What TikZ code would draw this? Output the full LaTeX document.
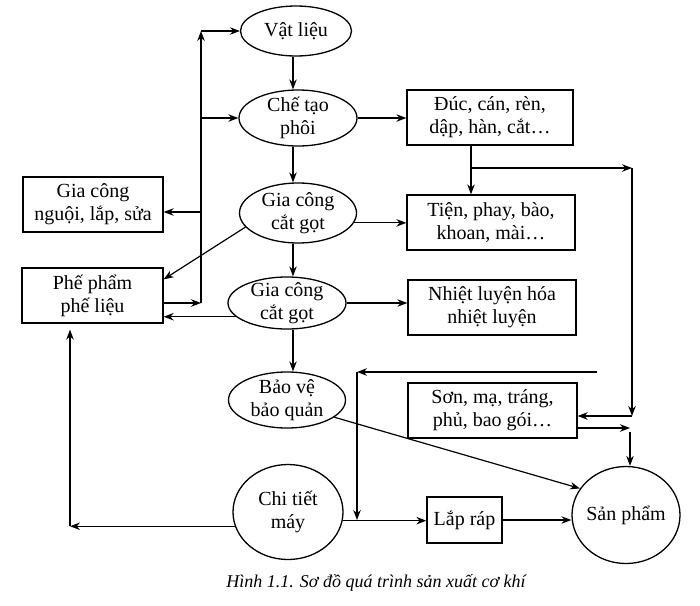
\documentclass[tikz,border=0pt]{standalone}
\usepackage{fontspec}
\setmainfont{Liberation Serif}
\usetikzlibrary{shapes.geometric,arrows.meta,calc}
\begin{document}
\begin{tikzpicture}[x=1pt,y=-1pt,
  every node/.style={font=\fontsize{20}{23}\selectfont},
  ell/.style={draw, ellipse, line width=1.3pt, inner sep=0pt},
  box/.style={draw, rectangle, line width=1.3pt, align=center, inner sep=2pt},
  lbl/.style={align=center, font=\fontsize{20}{23}\selectfont},
  arr/.style={line width=1.2pt, -{Stealth[length=10pt,width=7.5pt]}},
  ln/.style={line width=1.2pt}]
\useasboundingbox (0,0) rectangle (700,605);

% ellipses
\node[ell, minimum width=111pt, minimum height=50pt, label={[lbl]center:Vật liệu}] (vat) at (296,31) {};
\node[ell, minimum width=118pt, minimum height=56pt, label={[lbl]center:{Chế tạo\\phôi}}] (che) at (298,118) {};
\node[ell, minimum width=117pt, minimum height=60pt, label={[lbl]center:{Gia công\\cắt gọt}}] (gc1) at (298,213) {};
\node[ell, minimum width=118pt, minimum height=52pt, label={[lbl]center:{Gia công\\cắt gọt}}] (gc2) at (287,303) {};
\node[ell, minimum width=117pt, minimum height=56pt, label={[lbl]center:{Bảo vệ\\bảo quản}}] (bao) at (287,400) {};
\node[ell, minimum width=110pt, minimum height=95pt, label={[lbl]center:{Chi tiết\\máy}}] (chi) at (288,512) {};
\node[ell, minimum width=108pt, minimum height=97pt, label={[lbl]center:Sản phẩm}] (san) at (626,515) {};

% boxes
\node[box, minimum width=166pt, minimum height=55pt] (duc) at (490,117.5) {Đúc, cán, rèn,\\dập, hàn, cắt…};
\node[box, minimum width=168pt, minimum height=55pt] (tien) at (491,222.5) {Tiện, phay, bào,\\khoan, mài…};
\node[box, minimum width=168pt, minimum height=55pt] (nhiet) at (492,307.5) {Nhiệt luyện hóa\\nhiệt luyện};
\node[box, minimum width=169pt, minimum height=55pt] (son) at (492.5,410.5) {Sơn, mạ, tráng,\\phủ, bao gói…};
\node[box, minimum width=140pt, minimum height=55pt] (ngoui) at (93,204.5) {Gia công\\nguội, lắp, sửa};
\node[box, minimum width=141pt, minimum height=55pt] (phe) at (92.5,295.5) {Phế phẩm\\phế liệu};
\node[box, minimum width=75pt, minimum height=46pt] (lap) at (464.5,520) {Lắp ráp};

% central column
\coordinate (colx) at (293,0);
\draw[arr] (colx |- vat.south) -- (colx |- che.north);
\draw[arr] (colx |- che.south) -- (colx |- gc1.north);
\draw[arr] (colx |- gc1.south) -- (colx |- gc2.north);
\draw[arr] (colx |- gc2.south) -- (colx |- bao.north);

% left bus
\coordinate (bt) at (201,31);
\coordinate (b1) at (201,118);
\coordinate (b2) at (201,212);
\coordinate (bb) at (201,303);
\draw[arr] (bb) -- (bt);
\draw[arr] (bt) -- (vat.west);
\draw[arr] (b1) -- (che.west);
\draw[arr] (b2) -- (ngoui.east |- b2);
\draw[arr] (phe.east |- bb) -- (bb);
\draw[arr] (gc2.195) -- (phe.east |- gc2.195);
\draw[arr] (gc1.195) -- ($(phe.north east)+(0,12)$);

% right side
\draw[arr] (che.east) -- (duc.west |- che.east);
\draw[arr] (gc1.350) -- (tien.west |- gc1.350);
\draw[arr] (gc2.east) -- (nhiet.west |- gc2.east);
\coordinate (br) at (471,168);
\coordinate (rt) at (632,168);
\coordinate (rb) at (632,416);
\coordinate (rm) at (630,428);
\coordinate (rs) at (630,432);
\draw[arr] (duc.south -| br) -- (tien.north -| br);
\draw[arr] (br) -- (rt);
\draw[arr] (rt) -- (rb);
\draw[arr] (rb) -- (son.east |- rb);
\draw[arr] (son.east |- rm) -- (rm);
\draw[arr] (rs) -- (rs |- san.north);

% lower part
\coordinate (ft) at (597,372);
\coordinate (lc) at (357,372);
\draw[arr] (ft) -- (lc);
\draw[arr] (lc) -- (lc |- lap.west);
\draw[arr] (chi.351) -- (lap.west |- chi.351);
\draw[arr] (lap.east) -- (san.west |- lap.east);
\draw[arr] (bao.340) -- (san.150);
\coordinate (lx) at (70,0);
\draw[arr] (chi.195) -- (lx |- chi.195);
\draw[arr, shorten >=6pt] (lx |- chi.195) -- (lx |- phe.south);

% caption
\node[font=\fontsize{18}{20}\selectfont\itshape] (cap) at (376,583) {Hình 1.1. Sơ đồ quá trình sản xuất cơ khí};
\end{tikzpicture}
\end{document}
